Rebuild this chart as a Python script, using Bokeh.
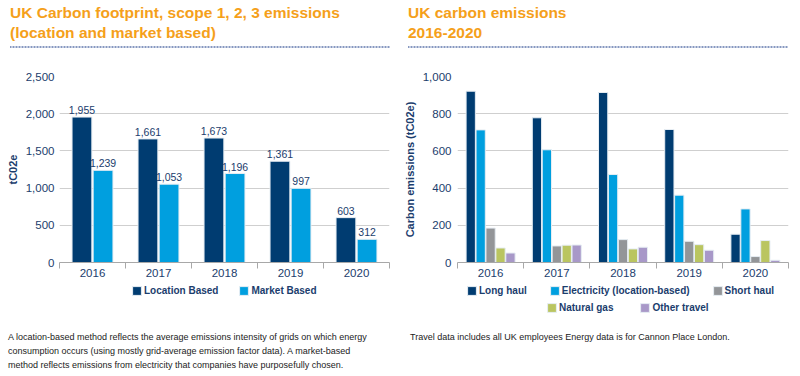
from bokeh.plotting import figure
from bokeh.models import (ColumnDataSource, Range1d, FixedTicker, NumeralTickFormatter,
                          LabelSet, Legend, LegendItem, Div)
from bokeh.core.properties import value
from bokeh.layouts import column, row
from bokeh.transform import dodge
from bokeh.embed import file_html
from bokeh.resources import INLINE

# ---------------- data ----------------
years = ["2016", "2017", "2018", "2019", "2020"]
location_based = [1955, 1661, 1673, 1361, 603]
market_based = [1239, 1053, 1196, 997, 312]

long_haul = [921, 778, 914, 715, 152]
electricity = [713, 606, 473, 362, 288]
short_haul = [185, 89, 123, 114, 32]
natural_gas = [78, 93, 73, 96, 118]
other_travel = [51, 94, 82, 66, 12]

left_title = ["UK Carbon footprint, scope 1, 2, 3 emissions", "(location and market based)"]
right_title = ["UK carbon emissions", "2016-2020"]
left_note = ["A location-based method reflects the average emissions intensity of grids on which energy",
             "consumption occurs (using mostly grid-average emission factor data). A market-based",
             "method reflects emissions from electricity that companies have purposefully chosen."]
right_note = ["Travel data includes all UK employees Energy data is for Cannon Place London."]

# ---------------- style ----------------
FONT = "Liberation Sans"
TXT = "#1B3D6D"
ORANGE = "#F5A01A"
NAVY = "#003C71"
LBLUE = "#009FDF"
GREY = "#939598"
GREEN = "#BAC560"
PURPLE = "#A898C8"
EDGE = "#e6edf3"

xpos = [i + 0.5 for i in range(len(years))]


def base_fig(ymax, ystep, left, right, ylabel, standoff):
    p = figure(width=400, height=234, x_range=Range1d(0, len(years)), y_range=Range1d(0, ymax),
               output_backend="svg", toolbar_location=None,
               min_border_left=left, min_border_right=right, min_border_top=26, min_border_bottom=22)
    p.outline_line_color = None
    p.background_fill_color = "white"
    p.border_fill_color = "white"
    p.xgrid.visible = False
    p.ygrid.grid_line_color = "#cfcfcf"
    p.ygrid.grid_line_width = 1
    p.yaxis.ticker = FixedTicker(ticks=list(range(0, ymax + 1, ystep)))
    p.yaxis.formatter = NumeralTickFormatter(format="0,0")
    p.yaxis.axis_line_color = None
    p.yaxis.major_tick_line_color = None
    p.yaxis.minor_tick_line_color = None
    p.yaxis.major_tick_out = 0
    p.yaxis.major_label_standoff = standoff
    p.yaxis.major_label_text_font = FONT
    p.yaxis.major_label_text_font_size = "11.5px"
    p.yaxis.major_label_text_color = TXT
    p.yaxis.axis_label = ylabel
    p.yaxis.axis_label_text_font = FONT
    p.yaxis.axis_label_text_font_size = "11px"
    p.yaxis.axis_label_text_font_style = "bold"
    p.yaxis.axis_label_text_color = TXT
    p.yaxis.axis_label_standoff = 4

    p.xaxis.ticker = FixedTicker(ticks=xpos, minor_ticks=list(range(len(years) + 1)))
    p.xaxis.major_label_overrides = {x: y for x, y in zip(xpos, years)}
    p.xaxis.axis_line_color = "#a8a8a8"
    p.xaxis.major_tick_line_color = None
    p.xaxis.major_tick_out = 0
    p.xaxis.major_tick_in = 0
    p.xaxis.minor_tick_line_color = "#a8a8a8"
    p.xaxis.minor_tick_out = 6
    p.xaxis.minor_tick_in = 0
    p.xaxis.major_label_standoff = 0
    p.xaxis.major_label_text_font = FONT
    p.xaxis.major_label_text_font_size = "11.5px"
    p.xaxis.major_label_text_color = TXT
    return p


def legend_fig():
    f = figure(width=400, height=36, x_range=Range1d(0, 1), y_range=Range1d(0, 1),
               output_backend="svg", toolbar_location=None, x_axis_type=None, y_axis_type=None,
               min_border=0)
    f.outline_line_color = None
    f.xgrid.visible = False
    f.ygrid.visible = False
    return f


def make_legend(items, x, y, spacing):
    return Legend(items=items, location=(x, y), orientation="horizontal",
                  glyph_width=11, glyph_height=11, label_standoff=2, spacing=spacing,
                  padding=0, margin=0, border_line_color=None, background_fill_alpha=0,
                  label_text_font=FONT, label_text_font_size="10px", label_text_font_style="bold",
                  label_text_color=TXT, label_height=12)


def legend_items(fig, entries):
    # a one-row source placed outside the visible range: only the legend swatch is shown
    holder = ColumnDataSource(dict(x=[-5], top=[0]))
    items = []
    for lab, col in entries:
        r = fig.vbar(x="x", top="top", width=0.1, source=holder, fill_color=col,
                     line_color=EDGE, line_width=1)
        items.append(LegendItem(label=lab, renderers=[r]))
    return items


# ---------------- left chart ----------------
src1 = ColumnDataSource(dict(x=xpos, year=years, loc=location_based, mkt=market_based,
                             loc_txt=[f"{v:,}" for v in location_based],
                             mkt_txt=[f"{v:,}" for v in market_based]))
p1 = base_fig(2500, 500, 59, 11, "tC02e", 5)
p1.vbar(x=dodge("x", -0.16), top="loc", width=0.3, source=src1,
        fill_color=NAVY, line_color=EDGE, line_width=1)
p1.vbar(x=dodge("x", 0.16), top="mkt", width=0.3, source=src1,
        fill_color=LBLUE, line_color=EDGE, line_width=1)
for fld, off in (("loc_txt", -0.16), ("mkt_txt", 0.16)):
    p1.add_layout(LabelSet(x=dodge("x", off), y=fld.split("_")[0], text=fld, source=src1,
                           text_align="center", text_baseline="bottom", y_offset=3,
                           text_font=value(FONT), text_font_size="10.5px", text_color=TXT))

lg1 = legend_fig()
lg1.add_layout(make_legend(legend_items(lg1, [("Location Based", NAVY), ("Market Based", LBLUE)]),
                           131, 24, 20))

# ---------------- right chart ----------------
src2 = ColumnDataSource(dict(x=xpos, lh=long_haul, el=electricity, sh=short_haul,
                             ng=natural_gas, ot=other_travel))
p2 = base_fig(1000, 200, 57, 12, "Carbon emissions (tC02e)", 6)
series = [("lh", "Long haul", NAVY), ("el", "Electricity (location-based)", LBLUE),
          ("sh", "Short haul", GREY), ("ng", "Natural gas", GREEN), ("ot", "Other travel", PURPLE)]
offs = [-0.3, -0.15, 0.0, 0.15, 0.3]
for (fld, lab, col), off in zip(series, offs):
    p2.vbar(x=dodge("x", off), top=fld, width=0.14, source=src2,
            fill_color=col, line_color=EDGE, line_width=1)

lg2 = legend_fig()
items2 = legend_items(lg2, [(lab, col) for _, lab, col in series])
lg2.add_layout(make_legend(items2[:3], 66, 24, 22))
lg2.add_layout(make_legend(items2[3:], 146, 7, 26))


# ---------------- text blocks ----------------
def title_div(lines, pad_left):
    html = "<br>".join(lines)
    style = ("box-sizing:border-box;margin-left:%dpx;width:380px;padding-top:3px;height:48px;"
             "font-family:'Liberation Sans';font-weight:bold;font-size:15.5px;line-height:20px;"
             "color:%s;white-space:nowrap;"
             "background-image:linear-gradient(to right,#8798c0 66%%,rgba(255,255,255,0) 0%%);"
             "background-size:3px 2px;background-repeat:repeat-x;background-position:bottom;"
             % (pad_left, ORANGE))
    return Div(text=f'<div style="{style}">{html}</div>', width=400, height=50, margin=0)


def note_div(lines, pad_left):
    html = "<br>".join(lines)
    style = ("margin-left:%dpx;padding-top:10px;font-family:'Liberation Sans';font-size:9px;"
             "line-height:14px;color:#222222;white-space:nowrap;" % pad_left)
    return Div(text=f'<div style="{style}">{html}</div>', width=400, height=56, margin=0)


layout = column(
    row(title_div(left_title, 10), title_div(right_title, 8), spacing=0),
    row(p1, p2, spacing=0),
    row(lg1, lg2, spacing=0),
    row(note_div(left_note, 8), note_div(right_note, 10), spacing=0),
    spacing=0,
)

open("out.html", "w").write(file_html(layout, INLINE))
